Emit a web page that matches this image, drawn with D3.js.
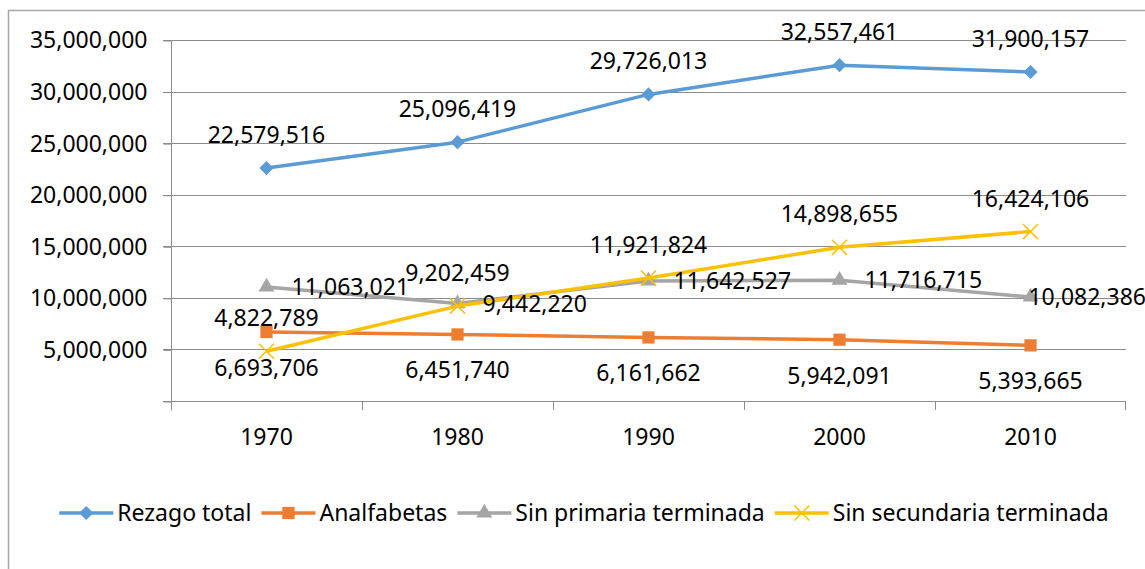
<!DOCTYPE html>
<html>
<head>
<meta charset="utf-8">
<script src="https://cdn.jsdelivr.net/npm/d3@7"></script>
<style>
  body { margin: 0; background: #fff; }
  text { font-family: "Noto Sans", "Open Sans", sans-serif; fill: #000; }
</style>
</head>
<body>
<div id="drawhere"></div>
<script>
// data
var years = ["1970", "1980", "1990", "2000", "2010"];
var rezagoTotal = [22579516, 25096419, 29726013, 32557461, 31900157];
var analfabetas = [6693706, 6451740, 6161662, 5942091, 5393665];
var sinPrimaria = [11063021, 9442220, 11642527, 11716715, 10082386];
var sinSecundaria = [4822789, 9202459, 11921824, 14898655, 16424106];
var yTicks = [0, 5000000, 10000000, 15000000, 20000000, 25000000, 30000000, 35000000];

var seriesNames = ["Rezago total", "Analfabetas", "Sin primaria terminada", "Sin secundaria terminada"];
var seriesValues = [rezagoTotal, analfabetas, sinPrimaria, sinSecundaria];
var seriesColors = ["#5B9BD5", "#ED7D31", "#A5A5A5", "#FFC000"];
var labelPos = ["above", "below", "right", "above"];

var chartW = 1145, chartH = 569;
var plotL = 171, plotR = 1126, plotT = 40, plotB = 401;
var gridColor = "#8c8c8c";

var svg = d3.select("#drawhere").append("svg")
    .attr("width", chartW)
    .attr("height", chartH);

// chart area border
svg.append("rect")
    .attr("x", 8.5)
    .attr("y", 10.5)
    .attr("width", chartW + 10)
    .attr("height", chartH + 10)
    .attr("fill", "none")
    .attr("stroke", "#a6a6a6")
    .attr("stroke-width", 1.5);

var x = d3.scaleBand().domain(years).range([plotL, plotR]);
var y = d3.scaleLinear().domain([0, 35000000]).range([plotB, plotT]);

// gridlines
svg.append("g").selectAll("line")
    .data(yTicks)
    .enter().append("line")
    .attr("x1", plotL - 8)
    .attr("x2", plotR)
    .attr("y1", function(d) { return Math.round(y(d)) + 0.5; })
    .attr("y2", function(d) { return Math.round(y(d)) + 0.5; })
    .attr("stroke", gridColor)
    .attr("stroke-width", 1);

// y axis
var yAxis = svg.append("g")
    .attr("transform", "translate(" + (plotL + 0.5) + ",0.5)")
    .call(d3.axisLeft(y)
        .tickValues(yTicks)
        .tickSizeInner(8)
        .tickSizeOuter(0)
        .tickPadding(16)
        .tickFormat(function(d) { return d === 0 ? "" : d3.format(",")(d); }));
yAxis.selectAll("text").attr("font-size", 23).attr("font-family", "Noto Sans").attr("fill", "#000");
yAxis.selectAll("line, path").attr("stroke", gridColor);
yAxis.select(".domain").attr("d", "M0," + plotT + "V" + (plotB + 9));

// x axis
var xAxis = svg.append("g")
    .attr("transform", "translate(0," + (plotB + 0.5) + ")")
    .call(d3.axisBottom(x).tickSize(0).tickPadding(27));
xAxis.selectAll("text").attr("font-size", 23).attr("font-family", "Noto Sans").attr("fill", "#000");
xAxis.select(".domain").remove();

// category boundary ticks
svg.append("g").selectAll("line")
    .data(years.slice(1).concat(["end"]))
    .enter().append("line")
    .attr("x1", function(d) { return d === "end" ? plotR - 0.5 : Math.round(x(d)) + 0.5; })
    .attr("x2", function(d) { return d === "end" ? plotR - 0.5 : Math.round(x(d)) + 0.5; })
    .attr("y1", plotB)
    .attr("y2", plotB + 9)
    .attr("stroke", gridColor);

var cx = function(i) { return x(years[i]) + x.bandwidth() / 2; };

function marker(g, k, size) {
    if (k === 0) {
        return g.append("path")
            .attr("d", d3.symbol().type(d3.symbolSquare).size(size || 100)())
            .attr("transform", "rotate(45)")
            .attr("fill", seriesColors[k]);
    } else if (k === 1) {
        return g.append("path")
            .attr("d", d3.symbol().type(d3.symbolSquare).size(size || 150)())
            .attr("fill", seriesColors[k]);
    } else if (k === 2) {
        return g.append("path")
            .attr("d", d3.symbol().type(d3.symbolTriangle).size(size || 110)())
            .attr("fill", seriesColors[k]);
    }
    return g.append("path")
        .attr("d", d3.symbol().type(d3.symbolTimes).size(size || 150)())
        .attr("fill", "none")
        .attr("stroke", seriesColors[k])
        .attr("stroke-width", 1.5);
}

var line = d3.line()
    .x(function(d, i) { return cx(i); })
    .y(function(d) { return y(d); });

// lines and markers
seriesValues.forEach(function(vals, k) {
    svg.append("path")
        .datum(vals)
        .attr("d", line)
        .attr("fill", "none")
        .attr("stroke", seriesColors[k])
        .attr("stroke-width", 3.5)
        .attr("stroke-linejoin", "round");
    vals.forEach(function(v, i) {
        var g = svg.append("g").attr("transform", "translate(" + cx(i) + "," + y(v) + ")");
        marker(g, k);
    });
});

// data labels
seriesValues.forEach(function(vals, k) {
    vals.forEach(function(v, i) {
        var px = cx(i), py = y(v);
        var t = svg.append("text")
            .attr("font-size", 23)
            .text(d3.format(",")(v));
        if (labelPos[k] === "above") {
            t.attr("x", px).attr("y", py - 25).attr("text-anchor", "middle");
        } else if (labelPos[k] === "below") {
            t.attr("x", px).attr("y", py + 44).attr("text-anchor", "middle");
        } else {
            var w = t.node().getComputedTextLength();
            var lx = Math.min(px + 25, 1146 - w);
            t.attr("x", lx).attr("y", py + 8);
        }
    });
});

// legend
var legend = svg.append("g").attr("transform", "translate(0,513)");
var pos = 0;
var items = [];
seriesNames.forEach(function(name, k) {
    var g = legend.append("g");
    g.append("line")
        .attr("x1", 0).attr("x2", 54)
        .attr("stroke", seriesColors[k])
        .attr("stroke-width", 3.5);
    marker(g.append("g").attr("transform", "translate(27,0)"), k, [100, 150, 110, 150][k]);
    var t = g.append("text")
        .attr("x", 58)
        .attr("y", 8)
        .attr("font-size", 23)
        .text(name);
    var w = 58 + t.node().getComputedTextLength();
    items.push({ g: g, x: pos });
    pos += w + 10;
});
var total = pos - 10;
var start = 584 - total / 2;
items.forEach(function(it) {
    it.g.attr("transform", "translate(" + (start + it.x) + ",0)");
});
</script>
</body>
</html>
